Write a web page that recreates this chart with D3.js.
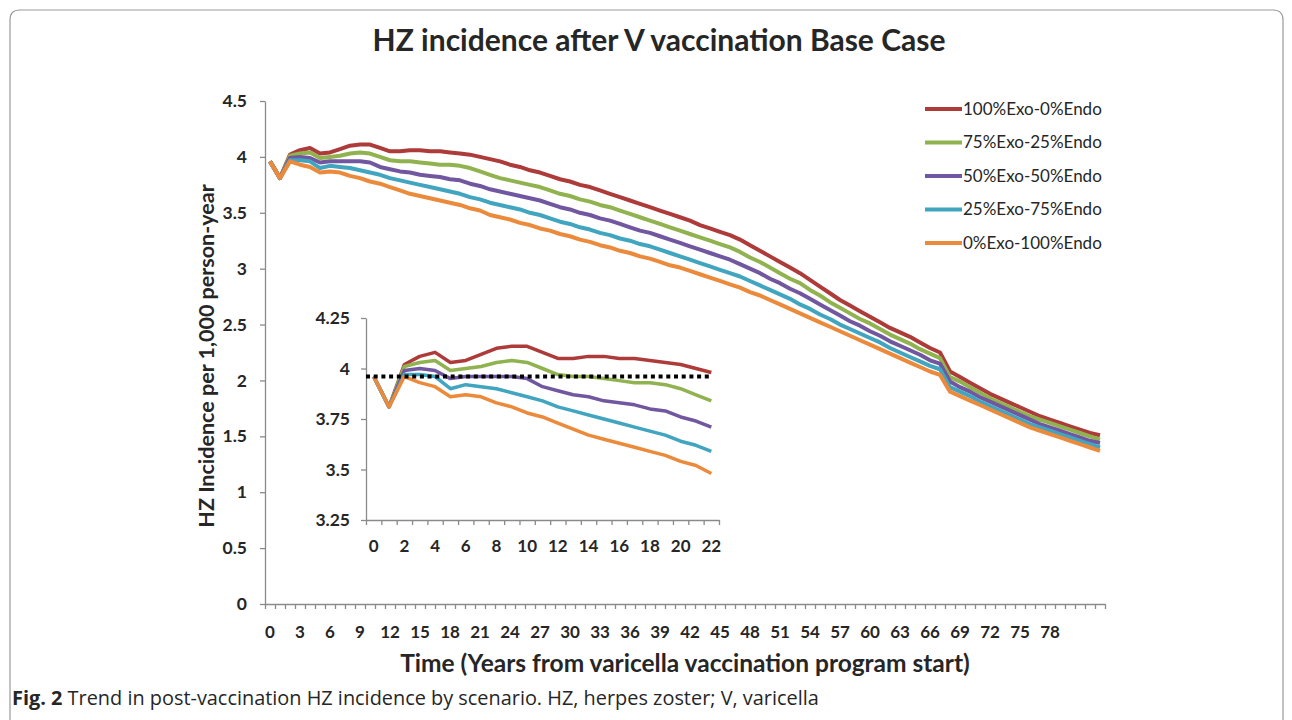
<!doctype html>
<html>
<head>
<meta charset="utf-8">
<title>HZ incidence after V vaccination</title>
<script src="https://d3js.org/d3.v7.min.js"></script>
<style>
    body { margin: 0; background: #fff; }
    svg text { font-family: Lato, "Open Sans", sans-serif; fill: #262626; }
    .axis path, .axis line { stroke: #8a8a8a; stroke-width: 1.3px; }
    .axis text { font-weight: bold; }
</style>
</head>
<body>
<svg width="1292" height="720"></svg>
<script>

// years since start of varicella vaccination
var years = d3.range(0, 84);
var insetYears = d3.range(0, 23);

var yTicks = [0, 0.5, 1, 1.5, 2, 2.5, 3, 3.5, 4, 4.5];
var xTicks = [0,3,6,9,12,15,18,21,24,27,30,33,36,39,42,45,48,51,54,57,60,63,66,69,72,75,78];
var insetYTicks = [3.25, 3.5, 3.75, 4, 4.25];
var insetXTicks = [0,2,4,6,8,10,12,14,16,18,20,22];
var baseline = 3.96;

var names = ["100%Exo-0%Endo", "75%Exo-25%Endo", "50%Exo-50%Endo", "25%Exo-75%Endo", "0%Exo-100%Endo"];
var colors = ["#ad3b39", "#90b24f", "#7157a0", "#41a5c0", "#ec8a3c"];

var exo100 = [3.96,3.81,4.02,4.06,4.08,4.03,4.04,4.07,4.10,4.11,
              4.11,4.08,4.05,4.05,4.06,4.06,4.05,4.05,4.04,4.03,
              4.02,4.00,3.98,3.96,3.93,3.91,3.88,3.86,3.83,3.80,
              3.78,3.75,3.73,3.70,3.67,3.64,3.61,3.58,3.55,3.52,
              3.49,3.46,3.43,3.39,3.36,3.33,3.30,3.26,3.21,3.16,
              3.11,3.06,3.01,2.96,2.90,2.84,2.78,2.72,2.67,2.62,
              2.57,2.52,2.47,2.43,2.39,2.34,2.29,2.25,2.08,2.03,
              1.98,1.93,1.88,1.84,1.80,1.76,1.72,1.68,1.65,1.62,
              1.59,1.56,1.53,1.51];
var exo75 = [3.96,3.81,4.01,4.03,4.04,3.99,4.00,4.01,4.03,4.04,
             4.03,4.00,3.97,3.96,3.96,3.95,3.94,3.93,3.93,3.92,
             3.90,3.87,3.84,3.81,3.79,3.77,3.75,3.73,3.70,3.67,
             3.65,3.62,3.60,3.57,3.55,3.52,3.49,3.46,3.43,3.40,
             3.37,3.34,3.31,3.28,3.25,3.22,3.19,3.15,3.10,3.06,
             3.01,2.96,2.91,2.87,2.81,2.76,2.70,2.65,2.60,2.55,
             2.51,2.46,2.41,2.37,2.33,2.28,2.24,2.20,2.03,1.99,
             1.94,1.89,1.84,1.80,1.76,1.72,1.68,1.65,1.62,1.59,
             1.56,1.53,1.50,1.47];
var exo50 = [3.96,3.81,3.99,4.00,3.99,3.95,3.96,3.96,3.96,3.96,
             3.95,3.91,3.89,3.87,3.86,3.84,3.83,3.82,3.80,3.79,
             3.76,3.74,3.71,3.69,3.67,3.65,3.63,3.61,3.58,3.55,
             3.53,3.50,3.48,3.45,3.43,3.40,3.37,3.34,3.32,3.29,
             3.26,3.23,3.20,3.17,3.14,3.11,3.08,3.04,3.00,2.96,
             2.91,2.87,2.82,2.78,2.73,2.68,2.63,2.58,2.53,2.49,
             2.44,2.40,2.35,2.31,2.27,2.23,2.18,2.15,1.99,1.94,
             1.90,1.85,1.81,1.77,1.73,1.69,1.65,1.61,1.58,1.55,
             1.52,1.49,1.46,1.44];
var exo25 = [3.96,3.81,3.97,3.97,3.96,3.90,3.92,3.91,3.90,3.88,
             3.86,3.84,3.81,3.79,3.77,3.75,3.73,3.71,3.69,3.67,
             3.64,3.62,3.59,3.57,3.55,3.53,3.50,3.48,3.45,3.42,
             3.40,3.37,3.35,3.32,3.30,3.27,3.25,3.22,3.20,3.17,
             3.14,3.11,3.08,3.05,3.02,2.99,2.96,2.93,2.89,2.85,
             2.81,2.77,2.73,2.68,2.64,2.59,2.55,2.50,2.46,2.42,
             2.38,2.34,2.29,2.25,2.21,2.17,2.13,2.10,1.94,1.90,
             1.86,1.81,1.77,1.73,1.69,1.65,1.61,1.58,1.55,1.52,
             1.49,1.46,1.43,1.40];
var exo0 = [3.96,3.81,3.96,3.93,3.91,3.86,3.87,3.86,3.83,3.81,
            3.78,3.76,3.73,3.70,3.67,3.65,3.63,3.61,3.59,3.57,
            3.54,3.52,3.48,3.46,3.44,3.41,3.39,3.36,3.34,3.31,
            3.29,3.26,3.24,3.21,3.19,3.16,3.14,3.11,3.09,3.06,
            3.03,3.01,2.98,2.95,2.92,2.89,2.86,2.83,2.79,2.76,
            2.72,2.68,2.64,2.60,2.56,2.52,2.48,2.44,2.40,2.36,
            2.32,2.28,2.24,2.20,2.16,2.12,2.08,2.05,1.90,1.86,
            1.82,1.78,1.74,1.70,1.66,1.62,1.58,1.55,1.52,1.49,
            1.46,1.43,1.40,1.37];

var series = [exo100, exo75, exo50, exo25, exo0];

var svg = d3.select("svg");

// frame round the figure
svg.append("path")
   .attr("d", "M10,720 V20 Q10,10 20,10 H1273 Q1283,10 1283,20 V720")
   .attr("fill", "none")
   .attr("stroke", "#9a9a9a")
   .attr("stroke-width", 1.2);

svg.append("text")
   .attr("x", 659)
   .attr("y", 51)
   .attr("text-anchor", "middle")
   .attr("font-size", "30px")
   .attr("font-weight", "bold")
   .text("HZ incidence after V vaccination Base Case");

// ---- main chart ----
var xScale = d3.scaleBand().domain(years).range([265, 1105]),
    xEdge = d3.scaleLinear().domain([0, years.length]).range([265, 1105]),
    yScale = d3.scaleLinear().domain([0, 4.5]).range([604, 101]);

svg.append("g")
   .attr("class", "axis")
   .attr("transform", "translate(0,604)")
   .call(d3.axisBottom(xEdge).tickValues(d3.range(0, years.length + 1)).tickFormat("").tickSize(5).tickSizeOuter(0));

svg.append("g")
   .attr("class", "axis")
   .attr("transform", "translate(0,604)")
   .call(d3.axisBottom(xScale).tickValues(xTicks).tickSize(0).tickPadding(22))
   .call(function(g) { g.select(".domain").remove(); })
   .selectAll("text").attr("font-size", "17px");

svg.append("g")
   .attr("class", "axis")
   .attr("transform", "translate(265,0)")
   .call(d3.axisLeft(yScale).tickValues(yTicks).tickFormat(function(d) { return d; }).tickSize(5).tickSizeOuter(0).tickPadding(13))
   .selectAll("text").attr("font-size", "17.5px");

var line = d3.line()
    .x(function(d, i) { return xScale(years[i]) + xScale.bandwidth() / 2; })
    .y(function(d) { return yScale(d); });

svg.append("g").selectAll("path")
   .data(series)
   .enter().append("path")
   .attr("d", line)
   .attr("fill", "none")
   .attr("stroke", function(d, i) { return colors[i]; })
   .attr("stroke-width", 4)
   .attr("stroke-linejoin", "round");

svg.append("text")
   .attr("transform", "translate(214,356) rotate(-90)")
   .attr("text-anchor", "middle")
   .attr("font-size", "21.5px")
   .attr("font-weight", "bold")
   .text("HZ Incidence per 1,000 person-year");

svg.append("text")
   .attr("x", 685)
   .attr("y", 672)
   .attr("text-anchor", "middle")
   .attr("font-size", "24.5px")
   .attr("font-weight", "bold")
   .text("Time (Years from varicella vaccination program start)");

// legend
var legend = svg.append("g").selectAll("g")
   .data(names)
   .enter().append("g")
   .attr("transform", function(d, i) { return "translate(925," + (109 + i * 33.5) + ")"; });

legend.append("line")
   .attr("x1", 0).attr("x2", 37)
   .attr("stroke", function(d, i) { return colors[i]; })
   .attr("stroke-width", 4);

legend.append("text")
   .attr("x", 38)
   .attr("dy", "0.35em")
   .attr("font-size", "17px")
   .text(function(d) { return d; });

// ---- inset: first 22 years ----
var ix = d3.scaleBand().domain(insetYears).range([366, 719]),
    ixEdge = d3.scaleLinear().domain([0, insetYears.length]).range([366, 719]),
    iy = d3.scaleLinear().domain([3.25, 4.25]).range([520, 318]);

svg.append("g")
   .attr("class", "axis")
   .attr("transform", "translate(0,520)")
   .call(d3.axisBottom(ixEdge).tickValues(d3.range(0, insetYears.length + 1)).tickFormat("").tickSize(5).tickSizeOuter(0));

svg.append("g")
   .attr("class", "axis")
   .attr("transform", "translate(0,520)")
   .call(d3.axisBottom(ix).tickValues(insetXTicks).tickSize(0).tickPadding(20))
   .call(function(g) { g.select(".domain").remove(); })
   .selectAll("text").attr("font-size", "17px");

svg.append("g")
   .attr("class", "axis")
   .attr("transform", "translate(366,0)")
   .call(d3.axisLeft(iy).tickValues(insetYTicks).tickFormat(function(d) { return d; }).tickSize(5).tickSizeOuter(0).tickPadding(11))
   .selectAll("text").attr("font-size", "17.5px");

var insetLine = d3.line()
    .x(function(d, i) { return ix(insetYears[i]) + ix.bandwidth() / 2; })
    .y(function(d) { return iy(d); });

svg.append("g").selectAll("path")
   .data(series)
   .enter().append("path")
   .attr("d", function(d) { return insetLine(d.slice(0, insetYears.length)); })
   .attr("fill", "none")
   .attr("stroke", function(d, i) { return colors[i]; })
   .attr("stroke-width", 3.5)
   .attr("stroke-linejoin", "round");

svg.append("line")
   .attr("x1", 366)
   .attr("x2", ix(22) + ix.bandwidth() / 2)
   .attr("y1", iy(baseline))
   .attr("y2", iy(baseline))
   .attr("stroke", "#000")
   .attr("stroke-width", 4)
   .attr("stroke-dasharray", "4,3.7");

// caption
var cap = svg.append("text")
   .attr("x", 12)
   .attr("y", 705)
   .attr("font-size", "19.9px")
   .style("font-family", "'Open Sans', sans-serif");
cap.append("tspan").attr("font-weight", "bold").text("Fig. 2");
cap.append("tspan").text(" Trend in post-vaccination HZ incidence by scenario. HZ, herpes zoster; V, varicella");

</script>
</body>
</html>
